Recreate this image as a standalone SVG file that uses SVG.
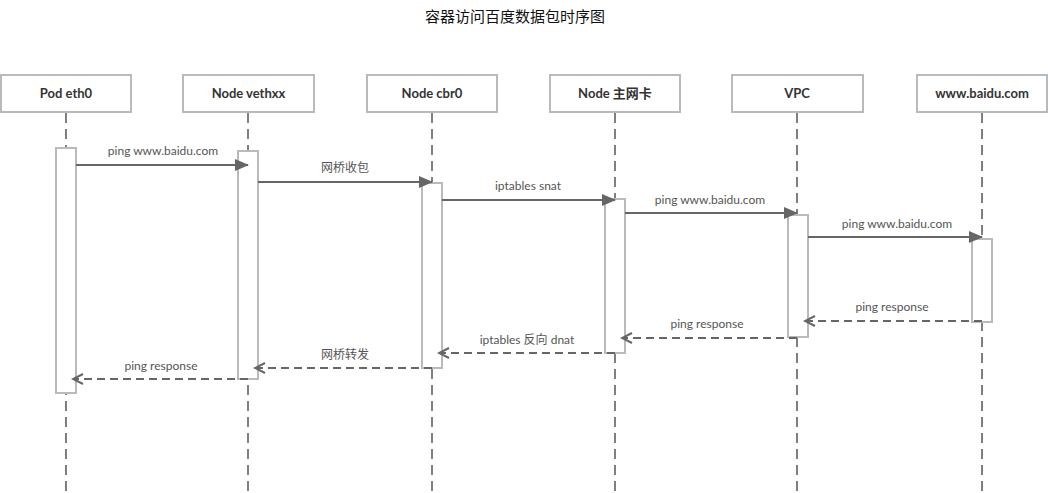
<svg xmlns="http://www.w3.org/2000/svg" width="1048" height="493" viewBox="0 0 1048 493">
<style>
.hdr{fill:#fff;stroke:#b8bbbe;stroke-width:2}
.hdt{font-family:Lato,"Noto Sans CJK SC",sans-serif;font-size:13px;font-weight:bold;fill:#333;text-anchor:middle}
.life{stroke:#808080;stroke-width:2;stroke-dasharray:10 6;fill:none}
.act{fill:#fff;stroke:#b8bbbe;stroke-width:2}
.msg{stroke:#666;stroke-width:2;fill:none}
.ret{stroke:#666;stroke-width:2;fill:none;stroke-dasharray:8 5}
.lbl{font-family:Lato,"Noto Sans CJK SC",sans-serif;font-size:12px;fill:#555;text-anchor:middle}
.title{font-family:"Noto Sans CJK SC",sans-serif;font-size:15px;fill:#111;text-anchor:middle}
</style>
<defs>
<marker id="solid" markerWidth="14" markerHeight="12" refX="13" refY="6" orient="auto" markerUnits="userSpaceOnUse">
<path d="M0,0 L14,6 L0,12 Z" fill="#666"/>
</marker>
<marker id="open" markerWidth="14" markerHeight="12" refX="12" refY="6" orient="auto" markerUnits="userSpaceOnUse">
<path d="M2,1 L12,6 L2,11" fill="none" stroke="#666" stroke-width="2"/>
</marker>
</defs>
<rect width="1048" height="493" fill="#fff"/>
<text class="title" x="515" y="22">容器访问百度数据包时序图</text>

<g id="lifelines">
<line class="life" x1="66" y1="113" x2="66" y2="493"/>
<line class="life" x1="248" y1="113" x2="248" y2="493"/>
<line class="life" x1="432" y1="113" x2="432" y2="493"/>
<line class="life" x1="615" y1="113" x2="615" y2="493"/>
<line class="life" x1="797" y1="113" x2="797" y2="493"/>
<line class="life" x1="982" y1="113" x2="982" y2="493"/>
</g>

<g id="pod"><rect class="hdr" x="1" y="75" width="130" height="37"/><text class="hdt" x="66" y="98">Pod eth0</text><rect class="act" x="56" y="148" width="20" height="245"/></g>
<g id="veth"><rect class="hdr" x="183" y="75" width="131" height="37"/><text class="hdt" x="248.5" y="98">Node vethxx</text><rect class="act" x="238" y="151" width="20" height="228"/></g>
<g id="cbr0"><rect class="hdr" x="367" y="75" width="130" height="37"/><text class="hdt" x="432" y="98">Node cbr0</text><rect class="act" x="422" y="183" width="20" height="185"/></g>
<g id="nic"><rect class="hdr" x="550" y="75" width="130" height="37"/><text class="hdt" x="615" y="98">Node 主网卡</text><rect class="act" x="605" y="199" width="20" height="154"/></g>
<g id="vpc"><rect class="hdr" x="732" y="75" width="131" height="37"/><text class="hdt" x="797" y="98">VPC</text><rect class="act" x="788" y="215" width="20" height="122"/></g>
<g id="baidu"><rect class="hdr" x="917" y="75" width="130" height="37"/><text class="hdt" x="982" y="98">www.baidu.com</text><rect class="act" x="972" y="239" width="20" height="83"/></g>

<g id="connectors">
<line class="msg" x1="76" y1="165" x2="248" y2="165" marker-end="url(#solid)"/>
<text class="lbl" x="163" y="155">ping www.baidu.com</text>
<line class="msg" x1="258" y1="182" x2="432" y2="182" marker-end="url(#solid)"/>
<text class="lbl" x="345" y="172">网桥收包</text>
<line class="msg" x1="442" y1="200" x2="615" y2="200" marker-end="url(#solid)"/>
<text class="lbl" x="528" y="190">iptables snat</text>
<line class="msg" x1="625" y1="213" x2="797" y2="213" marker-end="url(#solid)"/>
<text class="lbl" x="710" y="204">ping www.baidu.com</text>
<line class="msg" x1="808" y1="237" x2="982" y2="237" marker-end="url(#solid)"/>
<text class="lbl" x="897" y="228">ping www.baidu.com</text>

<line class="ret" x1="982" y1="321" x2="805" y2="321" marker-end="url(#open)"/>
<text class="lbl" x="892" y="311">ping response</text>
<line class="ret" x1="797" y1="338" x2="622" y2="338" marker-end="url(#open)"/>
<text class="lbl" x="707" y="328">ping response</text>
<line class="ret" x1="615" y1="353" x2="439" y2="353" marker-end="url(#open)"/>
<text class="lbl" x="527" y="344">iptables 反向 dnat</text>
<line class="ret" x1="432" y1="368" x2="255" y2="368" marker-end="url(#open)"/>
<text class="lbl" x="345" y="359">网桥转发</text>
<line class="ret" x1="248" y1="379" x2="73" y2="379" marker-end="url(#open)"/>
<text class="lbl" x="161" y="370">ping response</text>
</g>
</svg>
